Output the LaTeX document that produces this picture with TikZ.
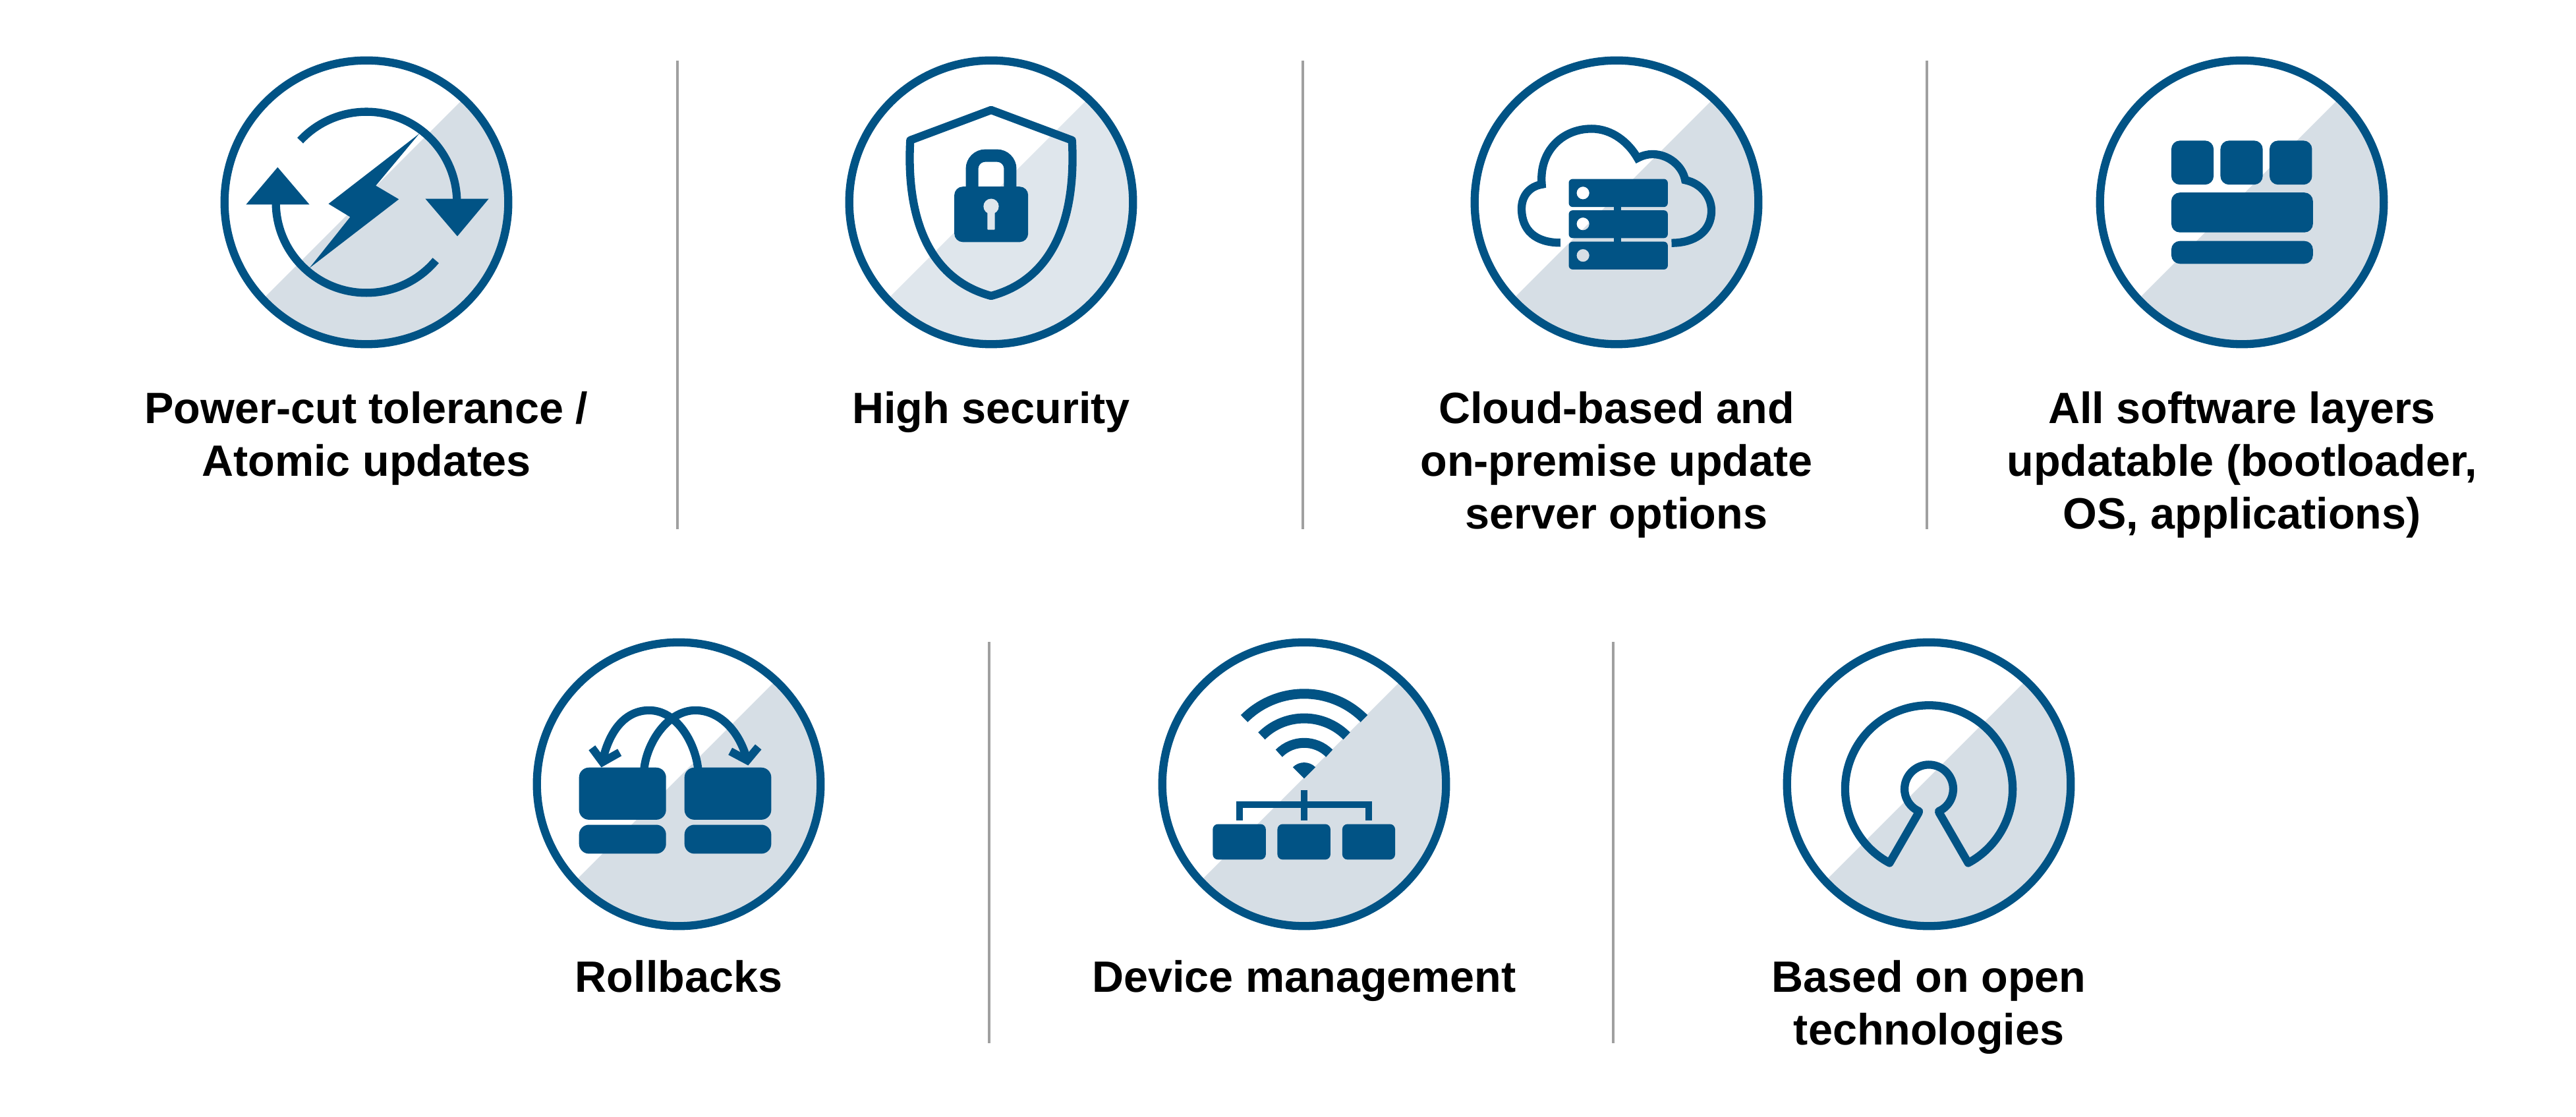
\documentclass[tikz,border=0pt]{standalone}
\usepackage{fontspec}
\setmainfont{Liberation Sans}
\definecolor{ringblue}{HTML}{015385}
\definecolor{backgrey}{HTML}{D6DEE5}
\definecolor{backlight}{HTML}{DFE6EC}
\definecolor{rulegrey}{HTML}{A0A0A0}
\tikzset{
  ring/.style={circle, draw=ringblue, line width=.123cm, minimum size=4.306cm, inner sep=0pt},
  lab/.style={anchor=north, align=center, inner sep=0pt, font=\fontsize{18.93}{22.76}\selectfont\bfseries},
  sep/.style={rulegrey, line width=.045cm},
  icon/.style={shift={(#1)}, x=.003333cm, y=.003333cm},
  thin stroke/.style={draw=ringblue, line width=.123cm},
  solid box/.style={fill=ringblue, rounded corners=#1},
  solid box/.default=.13cm
}
\newcommand{\halfdisc}[2][backgrey]{\fill[#1] (#2) ++(46.9:2.153) arc[start angle=46.9, end angle=-136.9, radius=2.153] -- cycle;}
\begin{document}
\begin{tikzpicture}
    \useasboundingbox (0, 0) rectangle (39.09, 16.94);

    %centres
    \coordinate (c1) at (5.56, 13.87);
    \coordinate (c2) at (15.04, 13.87);
    \coordinate (c3) at (24.53, 13.87);
    \coordinate (c4) at (34.02, 13.87);
    \coordinate (c5) at (10.30, 5.04);
    \coordinate (c6) at (19.79, 5.04);
    \coordinate (c7) at (29.27, 5.04);

    %backgrounds
    \halfdisc{c1}
    \halfdisc[backlight]{c2}
    \halfdisc{c3}
    \halfdisc{c4}
    \halfdisc{c5}
    \halfdisc{c6}
    \halfdisc{c7}

    %rings
    \draw (c1) node[ring](ring1){}
    (c2) node[ring](ring2){}
    (c3) node[ring](ring3){}
    (c4) node[ring](ring4){}
    (c5) node[ring](ring5){}
    (c6) node[ring](ring6){}
    (c7) node[ring](ring7){};

    %power cut
    \begin{scope}[icon=c1]
        \draw[thin stroke] (137:413) arc[start angle=137, end angle=1, radius=413];
        \draw[thin stroke] (180:413) arc[start angle=180, end angle=320, radius=413];
        \fill[ringblue] (-549, -10) -- (-260, -10) -- (-405, 160) -- cycle;
        \fill[ringblue] (269, 16) -- (558, 16) -- (415, -155) -- cycle;
        \fill[ringblue] (241, 313) -- (43, 76) -- (148, 14) -- (-260, -300) -- (-74, -67) -- (-173, -7) -- cycle;
    \end{scope}

    %shield
    \begin{scope}[icon=c2]
        \draw[thin stroke, line join=round] (0, 421) -- (-369, 283) .. controls (-388, -58) and (-293, -348) .. (0, -427)
            .. controls (293, -348) and (388, -58) .. (369, 283) -- cycle;
        \draw[ringblue, line width=.19cm, rounded corners=.2cm] (-87, 71) -- (-87, 213) -- (87, 213) -- (87, 71);
        \fill[solid box] (-168, 71.5) rectangle (169, -181.5);
        \fill[backlight] (0, -18.5) circle (35);
        \fill[backlight, rounded corners=.01cm] (-17, -30) rectangle (17, -125.5);
    \end{scope}

    %cloud
    \begin{scope}[icon=c3]
        \draw[thin stroke] (-256, -184.5) .. controls (-369, -184.5) and (-433, -128.5) .. (-433, -28.5)
            .. controls (-433, 31.5) and (-394, 73.5) .. (-341, 81.5)
            .. controls (-354, 231.5) and (-249, 335.5) .. (-114, 335.5)
            .. controls (-19, 335.5) and (56, 271.5) .. (96, 201.5)
            .. controls (119, 213.5) and (141, 219.5) .. (164, 219.5)
            .. controls (236, 219.5) and (301, 166.5) .. (313, 101.5)
            .. controls (386, 86.5) and (433, 26.5) .. (433, -38.5)
            .. controls (433, -133.5) and (356, -185.5) .. (251, -185.5);
        \fill[ringblue] (-11, -15) rectangle (21, -185);
        \fill[solid box=.06cm, even odd rule] (-218, 106.5) rectangle (234, -21.5) (-153, 42.5) circle (29);
        \fill[solid box=.06cm, even odd rule] (-218, -36.5) rectangle (234, -163.5) (-153, -98.5) circle (29);
        \fill[solid box=.06cm, even odd rule] (-218, -179.5) rectangle (234, -306.5) (-153, -242.5) circle (29);
    \end{scope}

    %layers
    \begin{scope}[icon=c4]
        \fill[solid box] (-322, 281.5) rectangle (-129, 80.5);
        \fill[solid box] (-98, 281.5) rectangle (95, 80.5);
        \fill[solid box] (126, 281.5) rectangle (320, 80.5);
        \fill[solid box] (-322, 44.5) rectangle (324, -137.5);
        \fill[solid box] (-322, -176.5) rectangle (324, -280.5);
    \end{scope}

    %rollback
    \begin{scope}[icon=c5]
        \fill[solid box=.15cm] (-455, 76) rectangle (-58, -162);
        \fill[solid box=.15cm] (26, 76) rectangle (422, -162);
        \fill[solid box=.15cm] (-455, -185) rectangle (-58, -317);
        \fill[solid box=.15cm] (26, -185) rectangle (422, -317);
        \draw[thin stroke] (88, 70) .. controls (75, 191) and (-10, 337) .. (-135, 337)
            .. controls (-240, 337) and (-315, 251) .. (-348, 106);
        \draw[thin stroke] (-158, 70) .. controls (-145, 191) and (-50, 337) .. (76, 337)
            .. controls (180, 337) and (275, 251) .. (312, 109);
        \draw[thin stroke] (-396, 166) -- (-348, 101) -- (-270, 145);
        \draw[thin stroke] (235, 150) -- (312, 109) -- (363, 170);
    \end{scope}

    %wifi
    \begin{scope}[icon=c6]
        \draw[ringblue, line width=.15cm] (0, 26) ++(135:386.5) arc[start angle=135, end angle=45, radius=386.5];
        \draw[ringblue, line width=.15cm] (0, 26) ++(135:274.5) arc[start angle=135, end angle=45, radius=274.5];
        \draw[ringblue, line width=.15cm] (0, 26) ++(135:162.5) arc[start angle=135, end angle=45, radius=162.5];
        \fill[ringblue] (0, 26) -- ++(135:73) arc[start angle=135, end angle=45, radius=73] -- cycle;
        \draw[ringblue, line width=.1cm] (0, -27) -- (0, -165);
        \draw[ringblue, line width=.1cm] (-295, -165) -- (-295, -93.5) -- (295, -93.5) -- (295, -165);
        \fill[solid box=.08cm] (-417, -182) rectangle (-175, -344);
        \fill[solid box=.08cm] (-122, -182) rectangle (120, -344);
        \fill[solid box=.08cm] (174, -182) rectangle (415, -344);
    \end{scope}

    %open source
    \begin{scope}[icon=c7]
        \draw[thin stroke, line join=round] (0, -22) ++(242:382) arc[start angle=242, end angle=-62, radius=382]
            -- (48, -132) -- (45.1, -123.4) arc[start angle=-66, end angle=246, radius=111] -- (-48, -132) -- cycle;
    \end{scope}

    %texts
    \draw (5.56, 11.00) node[lab](lab1){Power-cut tolerance /\\Atomic updates}
    (15.04, 11.00) node[lab](lab2){High security}
    (24.53, 11.00) node[lab](lab3){Cloud-based and\\on-premise update\\server options}
    (34.02, 11.00) node[lab](lab4){All software layers\\updatable (bootloader,\\OS, applications)}
    (10.30, 2.37) node[lab](lab5){Rollbacks}
    (19.79, 2.37) node[lab](lab6){Device management}
    (29.27, 2.37) node[lab](lab7){Based on open\\technologies};

    %separators
    \draw[sep] (10.28, 16.02) -- (10.28, 8.91);
    \draw[sep] (19.77, 16.02) -- (19.77, 8.91);
    \draw[sep] (29.24, 16.02) -- (29.24, 8.91);
    \draw[sep] (15.01, 7.20) -- (15.01, 1.11);
    \draw[sep] (24.48, 7.20) -- (24.48, 1.11);
\end{tikzpicture}
\end{document}
